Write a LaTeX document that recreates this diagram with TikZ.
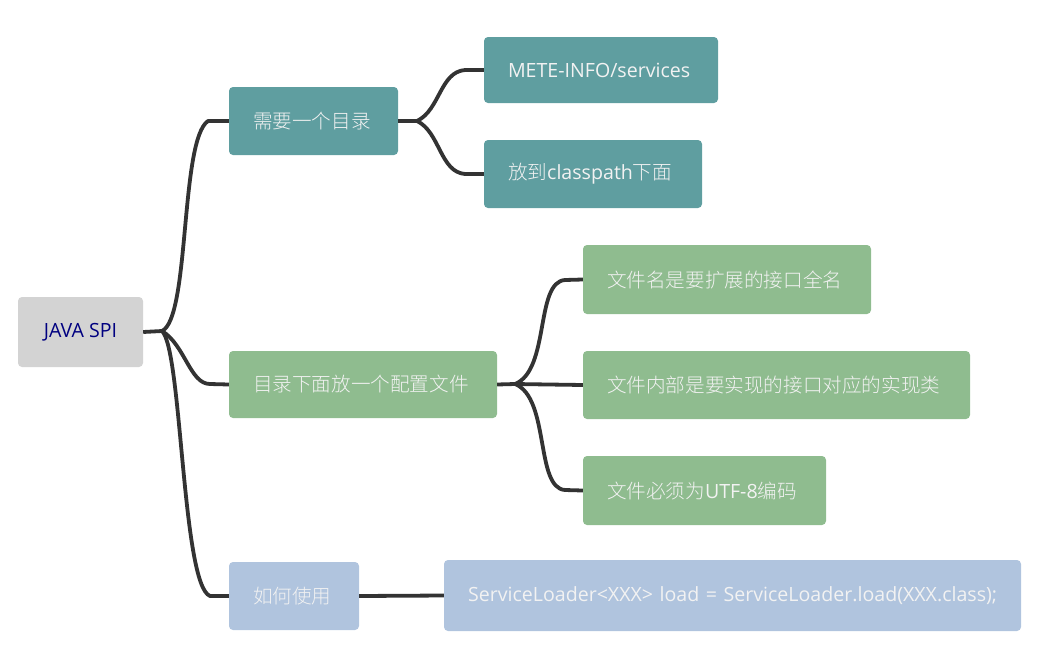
\documentclass[tikz,border=0pt]{standalone}
\usepackage{fontspec}
\setmainfont{Open Sans}
\newfontfamily\cjk{Noto Sans CJK SC Light}
\usetikzlibrary{calc}
\definecolor{teal1}{HTML}{5F9EA0}
\definecolor{green1}{HTML}{8FBC8F}
\definecolor{blue1}{HTML}{B0C4DE}
\definecolor{grey1}{HTML}{D3D3D3}
\definecolor{lineC}{HTML}{333333}
\definecolor{txt}{HTML}{F2F2F2}
\begin{document}
\begin{tikzpicture}[x=1pt,y=-1pt,
  box/.style={rounded corners=4pt, inner ysep=0pt, inner xsep=24pt, font=\fontsize{19.6}{22}\selectfont, text=txt, anchor=center, align=left},
  conn/.style={draw=lineC, line width=3.8pt, line join=round}]
\useasboundingbox (0,0) rectangle (1041,667);
% nodes
\node[box, inner xsep=0pt, align=center, fill=grey1, text={rgb,255:red,0;green,0;blue,128}, minimum width=125pt, minimum height=70pt] (root) at (80.5,332) {JAVA SPI};
\node[box, fill=teal1, text width=121pt, minimum height=68pt] (a) at (313.5,121) {\mbox{\cjk 需要一个目录}};
\node[box, fill=teal1, text width=186pt, minimum height=66pt] (a1) at (601,70) {\mbox{METE-INFO/services}};
\node[box, fill=teal1, text width=170pt, minimum height=68pt] (a2) at (593,174) {\mbox{{\cjk 放到}classpath{\cjk 下面}}};
\node[box, fill=green1, text width=220pt, minimum height=67pt] (b) at (363,384.5) {\mbox{\cjk 目录下面放一个配置文件}};
\node[box, fill=green1, text width=240pt, minimum height=69pt] (b1) at (727,279.5) {\mbox{\cjk 文件名是要扩展的接口全名}};
\node[box, fill=green1, text width=339pt, minimum height=68pt] (b2) at (776.5,385) {\mbox{\cjk 文件内部是要实现的接口对应的实现类}};
\node[box, fill=green1, text width=195pt, minimum height=69pt] (b3) at (704.5,490.5) {\mbox{{\cjk 文件必须为}UTF-8{\cjk 编码}}};
\node[box, fill=blue1, text width=82pt, minimum height=68pt] (c) at (294,596) {\mbox{\cjk 如何使用}};
\node[box, fill=blue1, text width=529pt, minimum height=71pt] (c1) at (732.5,595.5) {\mbox{ServiceLoader<XXX> load = ServiceLoader.load(XXX.class);}};
% connectors level 1
\coordinate (rb) at (162,331);
\draw[conn] (root.east) -- (rb);
\draw[conn] (rb) .. controls (190,318) and (180,140) .. (208,121) -- (a.west);
\draw[conn] (rb) .. controls (185,345) and (190,384) .. (210,384) -- (b.west);
\draw[conn] (rb) .. controls (182,350) and (182,585) .. (210,596) -- (c.west);
% level 2
\coordinate (ab) at (417,121);
\draw[conn] (a.east) -- (ab);
\draw[conn] (ab) .. controls (440,110) and (440,72) .. (465,70) -- (a1.west);
\draw[conn] (ab) .. controls (440,132) and (440,172) .. (465,174) -- (a2.west);
\coordinate (bb) at (515,384);
\draw[conn] (b.east) -- (bb);
\draw[conn] (bb) .. controls (550,370) and (535,282) .. (565,280) -- (b1.west);
\draw[conn] (bb) -- (b2.west);
\draw[conn] (bb) .. controls (550,398) and (535,488) .. (565,490) -- (b3.west);
\draw[conn] (c.east) -- (c1.west);
\end{tikzpicture}
\end{document}
